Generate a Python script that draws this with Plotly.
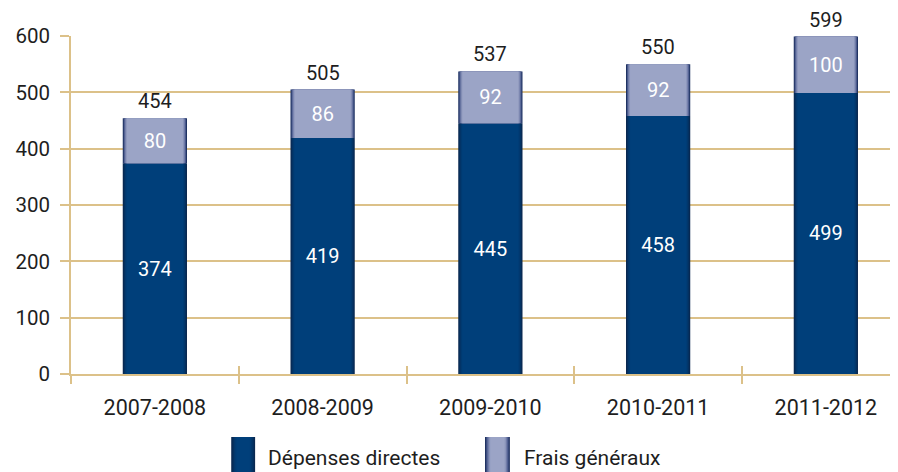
import plotly.graph_objects as go

years = ["2007-2008", "2008-2009", "2009-2010", "2010-2011", "2011-2012"]
directes = [374, 419, 445, 458, 499]
frais = [80, 86, 92, 92, 100]
totals = [454, 505, 537, 550, 599]
series_names = ["Dépenses directes", "Frais généraux"]

GOLD = "#dcc189"
TXT = "#1e1e1e"
FONT = "Roboto"

widths = [0.383, 0.371, 0.359, 0.347, 0.335]
dark_cols = ["#0a2850", "#05305f", "#03376b", "#013c74", "#003f7a"]
light_cols = ["#1f3262", "#4a5a8c", "#707ca8", "#8a94ba", "#9ba4c6"]

fig = go.Figure()
n = len(widths)
for i in range(n):
    last = i == n - 1
    fig.add_trace(go.Bar(
        x=years, y=directes, width=widths[i], marker_color=dark_cols[i],
        marker_line_width=0, showlegend=False, hoverinfo="skip",
        text=directes if last else None, textposition="inside" if last else "none",
        insidetextanchor="middle", textangle=0,
        textfont=dict(color="#ffffff", size=20, family=FONT),
    ))
for i in range(n):
    last = i == n - 1
    fig.add_trace(go.Bar(
        x=years, y=frais, base=directes, width=widths[i], marker_color=light_cols[i],
        marker_line_width=0, showlegend=False, hoverinfo="skip",
        text=frais if last else None, textposition="inside" if last else "none",
        insidetextanchor="middle", textangle=0,
        textfont=dict(color="#ffffff", size=20, family=FONT),
    ))

# total labels above the stacks
for yr, t in zip(years, totals):
    fig.add_annotation(x=yr, y=t, text=str(t), showarrow=False, yanchor="bottom",
                       yshift=3, font=dict(color=TXT, size=20, family=FONT))

# helper trace for the crossing tick marks axis
fig.add_trace(go.Scatter(
    x=years, y=totals, xaxis="x2", mode="markers", marker=dict(opacity=0),
    showlegend=False, hoverinfo="skip",
))

fig.update_layout(
    width=898, height=472,
    margin=dict(l=59, r=8, t=28, b=106),
    paper_bgcolor="white", plot_bgcolor="white",
    barmode="overlay",
    font=dict(family=FONT, size=20, color=TXT),
    xaxis=dict(
        type="category", range=[-0.5, 4.43], tickson="boundaries",
        ticks="outside", ticklen=8, tickwidth=1.5, tickcolor=GOLD,
        showline=True, linecolor=GOLD, linewidth=1.5, showgrid=False,
        tickfont=dict(size=21.5, color=TXT), ticklabelstandoff=13,
    ),
    xaxis2=dict(
        type="category", overlaying="x", matches="x", side="bottom",
        tickson="boundaries", ticks="inside", ticklen=8, tickwidth=1.5,
        tickcolor=GOLD, showticklabels=False, showline=False, showgrid=False,
    ),
    yaxis=dict(
        range=[0, 600], dtick=100, ticks="outside", ticklen=9, tickwidth=1.5,
        tickcolor=GOLD, showline=True, linecolor=GOLD, linewidth=1.5,
        showgrid=True, gridcolor=GOLD, gridwidth=1.5, zeroline=False,
        tickfont=dict(size=20.5, color=TXT), ticklabelstandoff=6,
    ),
)

# custom legend (paper coordinates relative to the plot area)
def px_x(px):
    return (px - 67) / 831.0

def px_y(py):
    return (374 - py) / 338.0

leg = [(228, 252, dark_cols, series_names[0], 263), (483, 508, light_cols, series_names[1], 520)]
for x0, x1, cols, name, tx in leg:
    for k, c in enumerate(cols):
        inset = k * 1.3
        fig.add_shape(type="rect", xref="paper", yref="paper",
                      x0=px_x(x0 + inset), x1=px_x(x1 - inset),
                      y0=px_y(472), y1=px_y(437), fillcolor=c, line_width=0)
    fig.add_annotation(xref="paper", yref="paper", x=px_x(tx), y=px_y(458),
                       text=name, showarrow=False, xanchor="left", yanchor="middle",
                       font=dict(size=21, color=TXT, family=FONT))

fig.write_html("out.html")
